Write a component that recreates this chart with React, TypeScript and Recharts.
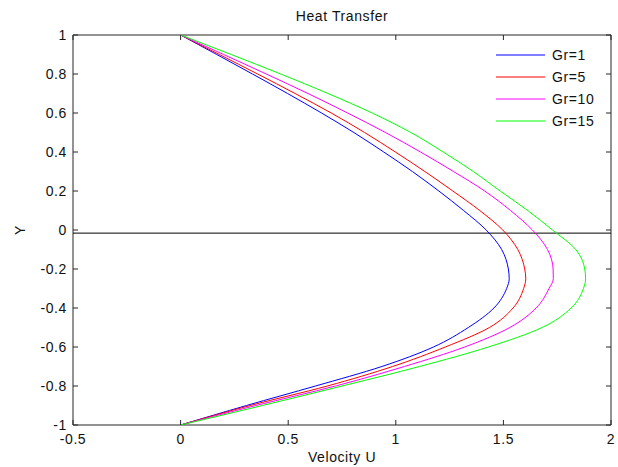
import { LineChart, Line, XAxis, YAxis, ReferenceLine, ReferenceArea, Legend } from 'recharts';

// y positions across the channel (shared by every curve)
const yLevels = [1, 0.9, 0.8, 0.7, 0.6, 0.5, 0.4, 0.3, 0.2, 0.1, 0, -0.1, -0.2, -0.25, -0.3, -0.4, -0.5, -0.6, -0.7, -0.8, -0.9, -1];

// velocity U for each Grashof number
const uGr1 = [0, 0.168, 0.334, 0.497, 0.655, 0.805, 0.944, 1.077, 1.2, 1.315, 1.42, 1.492, 1.523, 1.527, 1.515, 1.456, 1.337, 1.175, 0.935, 0.627, 0.306, 0];
const uGr5 = [0, 0.18, 0.358, 0.532, 0.7, 0.855, 0.998, 1.135, 1.265, 1.39, 1.497, 1.567, 1.599, 1.604, 1.594, 1.545, 1.435, 1.23, 0.985, 0.682, 0.323, 0];
const uGr10 = [0, 0.2, 0.398, 0.592, 0.776, 0.952, 1.115, 1.268, 1.413, 1.533, 1.635, 1.705, 1.731, 1.732, 1.712, 1.652, 1.53, 1.32, 1.04, 0.72, 0.35, 0];
const uGr15 = [0, 0.235, 0.465, 0.685, 0.89, 1.07, 1.22, 1.36, 1.485, 1.613, 1.728, 1.836, 1.878, 1.882, 1.872, 1.815, 1.68, 1.43, 1.11, 0.75, 0.38, 0];

const xTicks = [-0.5, 0, 0.5, 1, 1.5, 2];
const yTicks = [-1, -0.8, -0.6, -0.4, -0.2, 0, 0.2, 0.4, 0.6, 0.8, 1];
const baseLineY = -0.016;

const W = 618;
const H = 467;
const MARGIN = { top: 35, right: 7, bottom: 12, left: 23 };
const Y_AXIS_W = 50;
const X_AXIS_H = 30;
const PLOT_TOP = MARGIN.top;
const PLOT_BOTTOM = H - MARGIN.bottom - X_AXIS_H;
const PLOT_LEFT = MARGIN.left + Y_AXIS_W;
const PLOT_RIGHT = W - MARGIN.right;
const TICK = 5;
const AXIS = '#262626';
const FONT = '"Liberation Sans", Arial, sans-serif';
const TXT = { fontFamily: FONT, fontSize: 14, letterSpacing: 0.6, fill: '#111' };

const series = [
  { key: 'gr1', name: 'Gr=1', color: '#0000ff', u: uGr1 },
  { key: 'gr5', name: 'Gr=5', color: '#ff0000', u: uGr5 },
  { key: 'gr10', name: 'Gr=10', color: '#ff00ff', u: uGr10 },
  { key: 'gr15', name: 'Gr=15', color: '#00ff00', u: uGr15 },
];

const rows = yLevels.map((y, i) => {
  const row: Record<string, number> = { y };
  series.forEach((s) => {
    row[s.key] = s.u[i];
  });
  return row;
});

function XTick({ x, y, payload }: any) {
  return (
    <g>
      <line x1={x} x2={x} y1={PLOT_BOTTOM} y2={PLOT_BOTTOM - TICK} stroke={AXIS} />
      <line x1={x} x2={x} y1={PLOT_TOP} y2={PLOT_TOP + TICK} stroke={AXIS} />
      <text x={x} y={y} dy="0.71em" textAnchor="middle" style={TXT}>
        {payload.value}
      </text>
    </g>
  );
}

function YTick({ x, y, payload }: any) {
  return (
    <g>
      <line x1={PLOT_LEFT} x2={PLOT_LEFT + TICK} y1={y} y2={y} stroke={AXIS} />
      <line x1={PLOT_RIGHT} x2={PLOT_RIGHT - TICK} y1={y} y2={y} stroke={AXIS} />
      <text x={x} y={y} dy="0.36em" textAnchor="end" style={TXT}>
        {payload.value}
      </text>
    </g>
  );
}

function LegendBox() {
  return (
    <div style={{ fontFamily: FONT, fontSize: 14, letterSpacing: 0.6, color: '#111' }}>
      {series.map((s) => (
        <div key={s.key} style={{ display: 'flex', alignItems: 'center', height: 22 }}>
          <svg width={49} height={2} style={{ display: 'block', overflow: 'visible' }}>
            <line x1={0} x2={49} y1={1} y2={1} stroke={s.color} strokeWidth={1} />
          </svg>
          <span style={{ marginLeft: 7 }}>{s.name}</span>
        </div>
      ))}
    </div>
  );
}

export default function App() {
  return (
    <div style={{ position: 'absolute', left: 0, top: 0, width: W, height: H, background: '#fff' }}>
      <div
        style={{
          position: 'absolute',
          left: PLOT_LEFT,
          width: PLOT_RIGHT - PLOT_LEFT,
          top: 8,
          textAlign: 'center',
          fontFamily: FONT,
          fontSize: 14,
          letterSpacing: 0.6,
          color: '#111',
        }}
      >
        Heat Transfer
      </div>
      <LineChart width={W} height={H} margin={MARGIN} data={rows} layout="vertical">
        <XAxis
          type="number"
          domain={[-0.5, 2]}
          ticks={xTicks}
          height={X_AXIS_H}
          tickSize={0}
          tickMargin={9}
          tickLine={false}
          axisLine={false}
          tick={<XTick />}
          allowDataOverflow
          label={{
            content: (p: any) => (
              <text
                x={p.viewBox.x + p.viewBox.width / 2}
                y={p.viewBox.y + 32}
                textAnchor="middle"
                dominantBaseline="central"
                style={TXT}
              >
                Velocity U
              </text>
            ),
          }}
        />
        <YAxis
          type="number"
          dataKey="y"
          domain={[-1, 1]}
          ticks={yTicks}
          reversed
          width={Y_AXIS_W}
          tickSize={0}
          tickMargin={6}
          tickLine={false}
          axisLine={false}
          tick={<YTick />}
          allowDataOverflow
          label={{
            content: (p: any) => {
              const cx = p.viewBox.x - 3;
              const cy = p.viewBox.y + p.viewBox.height / 2;
              return (
                <text
                  x={cx}
                  y={cy}
                  transform={`rotate(-90 ${cx} ${cy})`}
                  textAnchor="middle"
                  dominantBaseline="central"
                  style={TXT}
                >
                  Y
                </text>
              );
            },
          }}
        />
        <ReferenceArea x1={-0.5} x2={2} y1={-1} y2={1} fill="none" stroke={AXIS} strokeWidth={1} ifOverflow="visible" />
        <ReferenceLine y={baseLineY} stroke="#000" strokeWidth={1} />
        {series.map((s) => (
          <Line
            key={s.key}
            name={s.name}
            dataKey={s.key}
            type="monotone"
            stroke={s.color}
            strokeWidth={1}
            dot={false}
            activeDot={false}
            isAnimationActive={false}
          />
        ))}
        <Legend
          layout="vertical"
          align="center"
          verticalAlign="middle"
          content={<LegendBox />}
          wrapperStyle={{ left: 496, top: 44, width: 'auto', height: 'auto' }}
        />
      </LineChart>
    </div>
  );
}
